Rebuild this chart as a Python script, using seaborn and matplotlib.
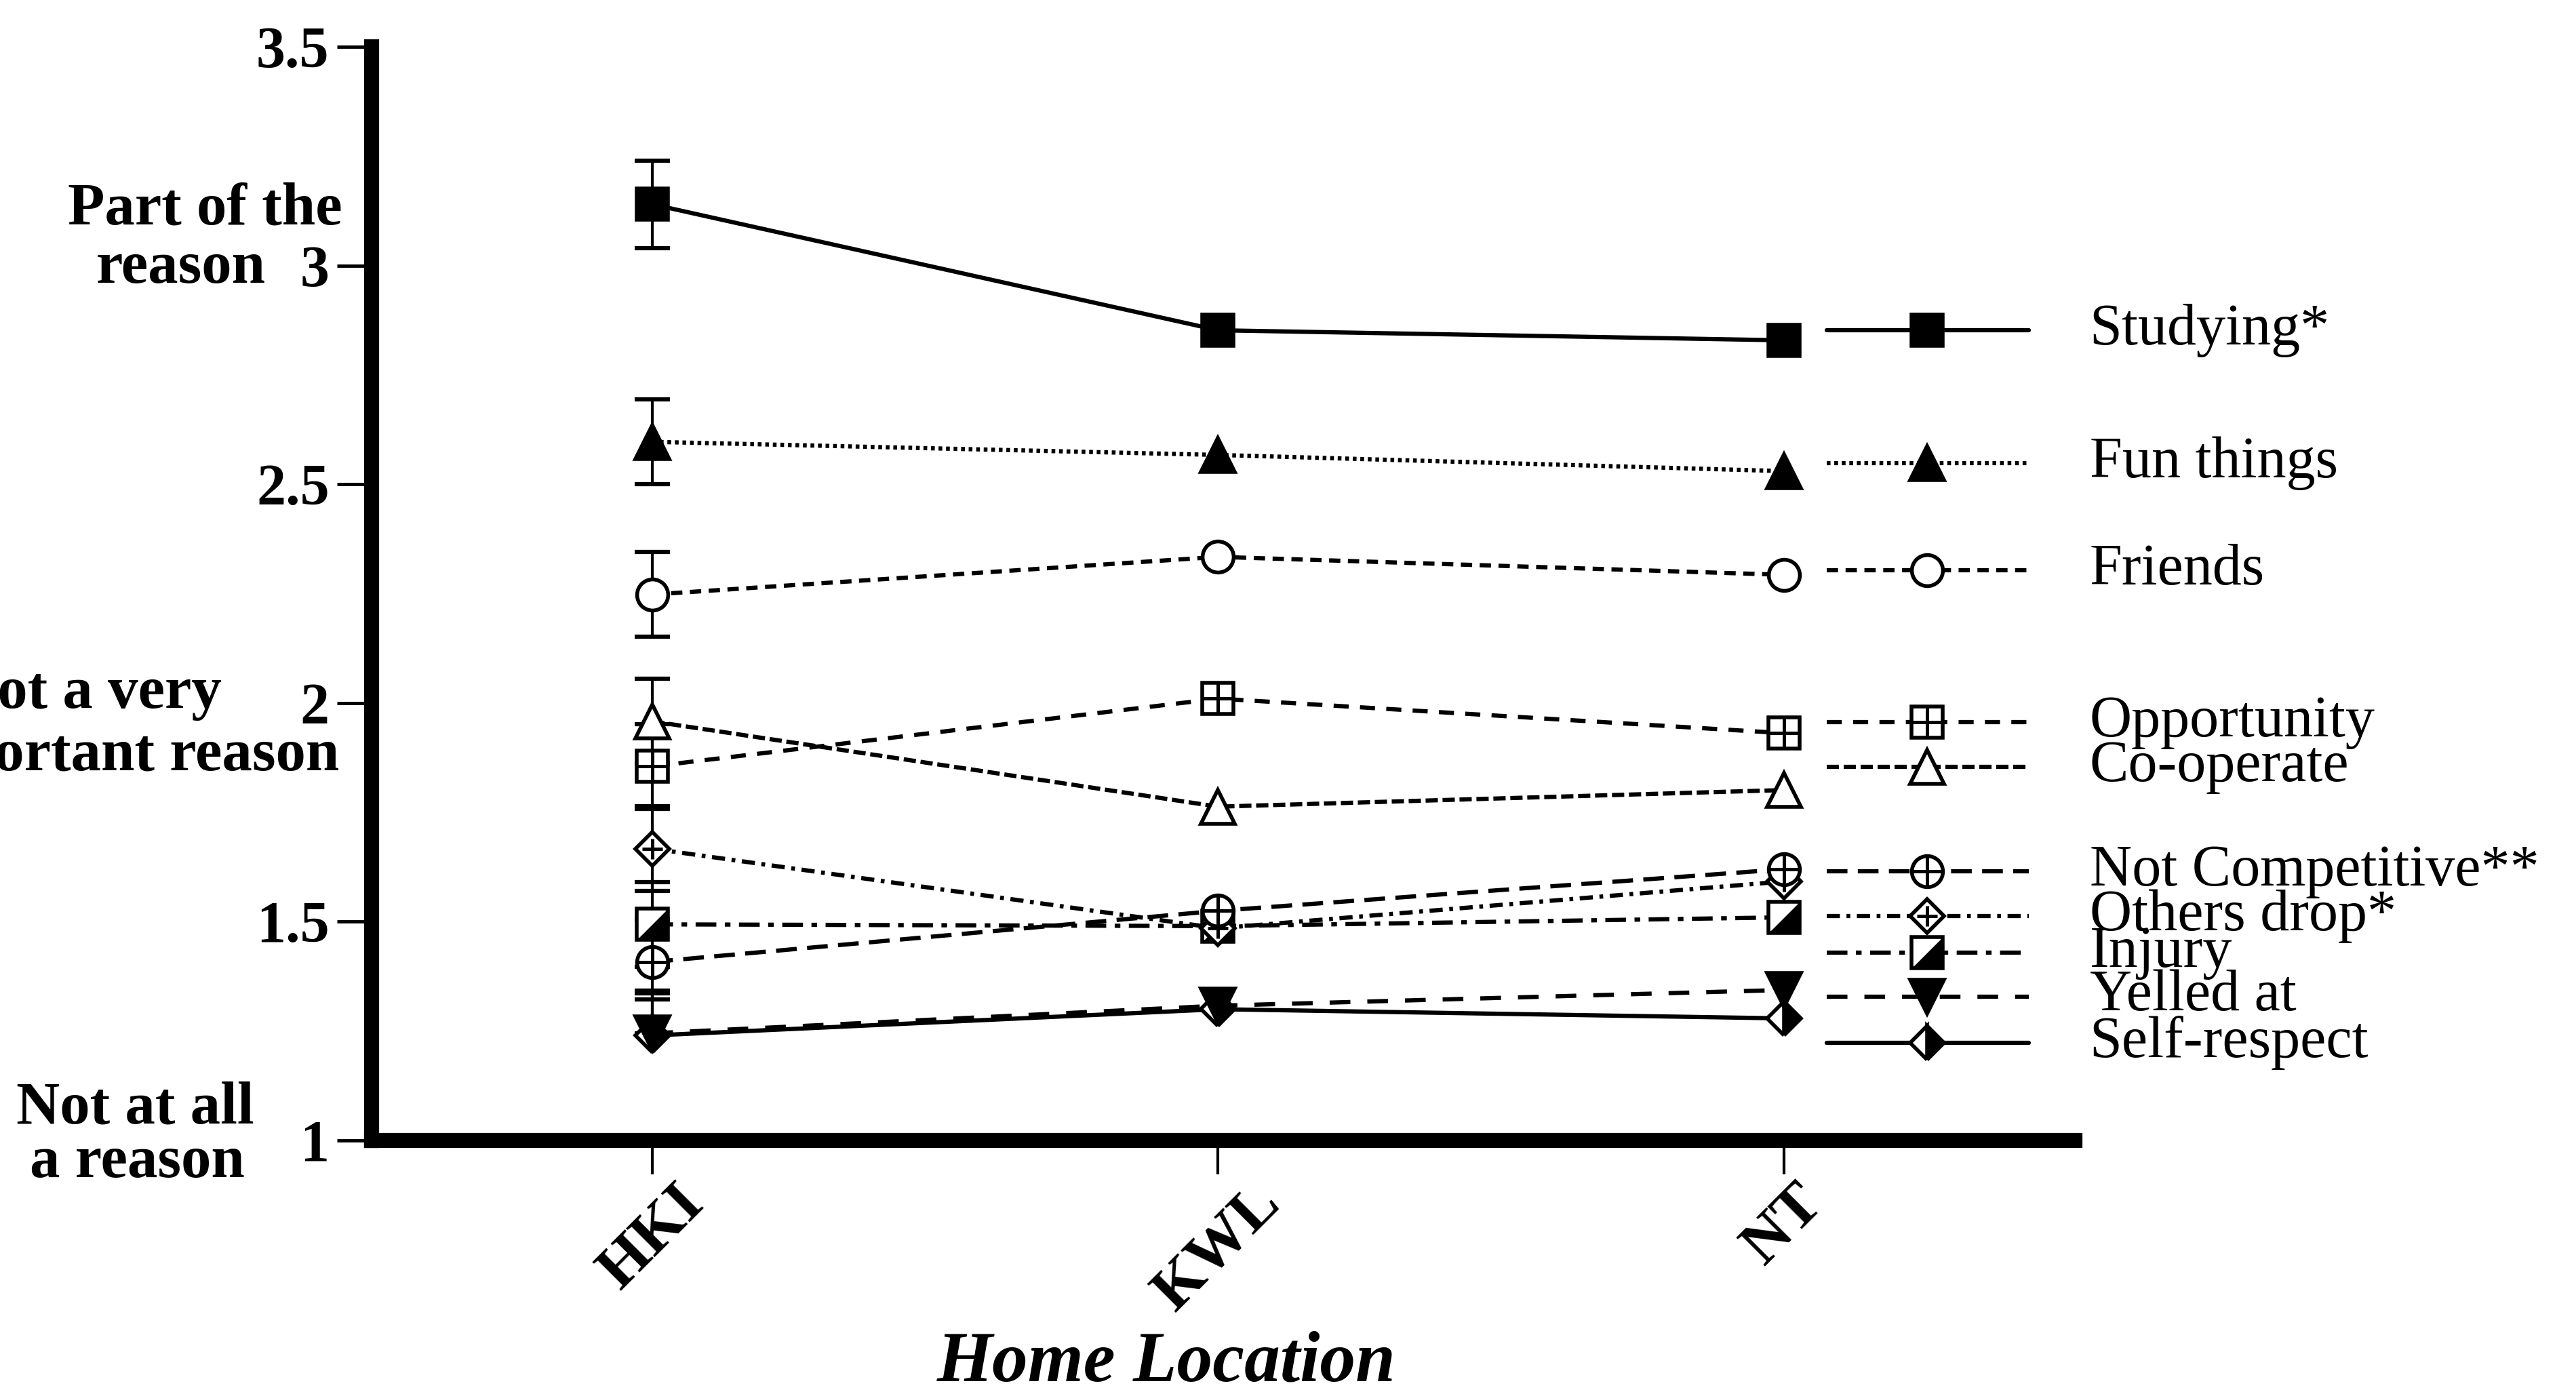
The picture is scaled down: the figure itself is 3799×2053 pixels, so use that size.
import numpy as np
import matplotlib
matplotlib.use("Agg")
import matplotlib.pyplot as plt
import seaborn as sns

# ---- data -------------------------------------------------------------
locations = ["HKI", "KWL", "NT"]
reasons = ["Studying*", "Fun things", "Friends", "Opportunity", "Co-operate",
           "Not Competitive**", "Others drop*", "Injury", "Yelled at",
           "Self-respect"]

studying = [3.140, 2.852, 2.829]
fun_things = [2.597, 2.567, 2.530]
friends = [2.248, 2.334, 2.293]
opportunity = [1.855, 2.010, 1.931]
co_operate = [1.958, 1.763, 1.801]
not_competitive = [1.408, 1.525, 1.620]
others_drop = [1.667, 1.485, 1.592]
injury = [1.494, 1.490, 1.510]
yelled_at = [1.245, 1.308, 1.344]
self_respect = [1.240, 1.300, 1.279]

# error bars at HKI (below / above the mean)
hki_err_low = [0.100, 0.097, 0.097, 0.097, 0.097, 0.085, 0.097, 0.097, 0.0, 0.0]
hki_err_high = [0.100, 0.097, 0.097, 0.097, 0.097, 0.097, 0.097, 0.097, 0.097, 0.097]

y_ticks = [1, 1.5, 2, 2.5, 3, 3.5]
y_tick_labels = ["1", "1.5", "2", "2.5", "3", "3.5"]
x_title = "Home Location"

series = dict(zip(reasons, [studying, fun_things, friends, opportunity, co_operate,
                            not_competitive, others_drop, injury, yelled_at,
                            self_respect]))

# ---- style --------------------------------------------------------------
sns.set_style("white")
plt.rcParams["font.family"] = ["Liberation Serif", "DejaVu Serif"]
plt.rcParams["lines.scale_dashes"] = False
for key in ["text.color", "axes.labelcolor", "xtick.color", "ytick.color",
            "axes.edgecolor"]:
    plt.rcParams[key] = "black"

W, H, DPI = 3799, 2053, 100
fig = plt.figure(figsize=(W / DPI, H / DPI), dpi=DPI)
fig.patch.set_facecolor("white")

ax_left, ax_right, ax_top, ax_bot = 548, 3060, 69, 1682
ax = fig.add_axes([ax_left / W, 1 - ax_bot / H, (ax_right - ax_left) / W,
                   (ax_bot - ax_top) / H])

LW = 4.5
MEW = 4.0
MS = 33
half_square = [(-1, -1), (1, 1), (1, -1)]

styles = {
    "Studying*": dict(ls="-", marker="s", mfc="k", ms=MS),
    "Fun things": dict(ls=(0, (4, 4)), marker="^", mfc="k", ms=MS + 3),
    "Friends": dict(ls=(0, (12, 8)), marker="o", mfc="w", ms=MS),
    "Opportunity": dict(ls=(0, (16, 12)), marker="s", mfc="w", ms=MS,
                        overlay=("+", MS, "k")),
    "Co-operate": dict(ls=(0, (13, 5)), marker="^", mfc="w", ms=MS + 3),
    "Not Competitive**": dict(ls=(0, (22, 11)), marker="o", mfc="w", ms=MS,
                              overlay=("+", MS, "k")),
    "Others drop*": dict(ls=(0, (14, 7, 4, 7)), marker="D", mfc="w", ms=MS * 0.76,
                         overlay=("+", 21, "k")),
    "Injury": dict(ls=(0, (22, 9, 6, 9)), marker="s", mfc="w", ms=MS,
                   overlay=(half_square, MS - 2, "k")),
    "Yelled at": dict(ls=(0, (22, 18)), marker="v", mfc="k", ms=MS + 3),
    "Self-respect": dict(ls="-", marker="D", mfc="k", ms=MS * 0.76,
                         fillstyle="right"),
}


def marker_kws(st):
    kw = dict(marker=st["marker"], markersize=st["ms"], markerfacecolor=st["mfc"],
              markeredgecolor="k", markeredgewidth=MEW)
    if "fillstyle" in st:
        kw["fillstyle"] = st["fillstyle"]
        kw["markerfacecoloralt"] = "w"
    return kw


def draw_overlay(xs, ys, st, z):
    if "overlay" not in st:
        return
    mk, size, col = st["overlay"]
    if mk == "+":
        ax.plot(xs, ys, ls="none", marker="+", markersize=size,
                markeredgecolor=col, markeredgewidth=MEW * 0.9, zorder=z)
    else:
        ax.plot(xs, ys, ls="none", marker=mk, markersize=size,
                markerfacecolor=col, markeredgewidth=0, zorder=z)


xpos = np.arange(len(locations))

# error bars at the first location
ax.errorbar(np.zeros(len(reasons)), [series[r][0] for r in reasons],
            yerr=[hki_err_low, hki_err_high], fmt="none", ecolor="k",
            elinewidth=3, capsize=19, capthick=4.5, zorder=1)

# earlier series sit on top of later ones
for i, name in enumerate(reasons):
    st = styles[name]
    z = 4 - i * 0.1
    sns.lineplot(x=xpos, y=series[name], ax=ax, color="k", linewidth=LW,
                 linestyle=st["ls"], errorbar=None, zorder=z, **marker_kws(st))
    draw_overlay(xpos, series[name], st, z + 0.05)

# ---- legend keys beside the last location --------------------------------
key_rows = [2.852, 2.548, 2.3035, 1.956, 1.854, 1.615, 1.513, 1.429, 1.329, 1.223]
key_x0, key_x1, key_xm, label_x = 2.0755, 2.4326, 2.2528, 2.54
for i, (name, ky) in enumerate(zip(reasons, key_rows)):
    st = styles[name]
    z = 4 - i * 0.1
    ax.plot([key_x0, key_x1], [ky, ky], color="k", lw=LW, ls=st["ls"], zorder=z,
            clip_on=False)
    ax.plot([key_xm], [ky], ls="none", zorder=z + 0.02, clip_on=False,
            **marker_kws(st))
    draw_overlay([key_xm], [ky], st, z + 0.05)
    ax.text(label_x, ky, name, fontsize=62, ha="left", va="center",
            color="k")

# ---- axes ---------------------------------------------------------------
ax.set_xlim(-0.4961, 2.5141)
ax.set_ylim(1, 3.5)
ax.set_xticks(xpos, labels=locations, rotation=45, ha="center", va="top",
              fontsize=66, fontweight="bold")
ax.set_yticks(y_ticks, labels=y_tick_labels, fontsize=62, fontweight="bold")
ax.tick_params(axis="y", direction="out", length=37, width=3.5, pad=8, color="k",
               left=True)
ax.tick_params(axis="x", direction="out", length=36, width=3, pad=1, color="k",
               bottom=True)
for side in ["top", "right"]:
    ax.spines[side].set_visible(False)
for side in ["left", "bottom"]:
    ax.spines[side].set_linewidth(16)
    ax.spines[side].set_color("k")
    ax.spines[side].set_capstyle("projecting")

ax.set_xlabel(x_title, fontsize=76, fontweight="bold", fontstyle="italic")
ax.xaxis.set_label_coords((1720 - ax_left) / (ax_right - ax_left),
                          -(2011 - ax_bot) / (ax_bot - ax_top))
ax.xaxis.label.set_va("center")

# verbal anchors for the rating scale
anchor_lines = [("Part of the", 505, 330), ("reason", 392, 417),
                ("Not a very", 327, 1044), ("important reason", 500, 1136),
                ("Not at all", 375, 1657), ("a reason", 361, 1736)]
for text, rx, by in anchor_lines:
    fig.text(rx / W, 1 - by / H, text, fontsize=64, fontweight="bold",
             ha="right", va="baseline")

fig.savefig("out.png", dpi=DPI, facecolor="white")
